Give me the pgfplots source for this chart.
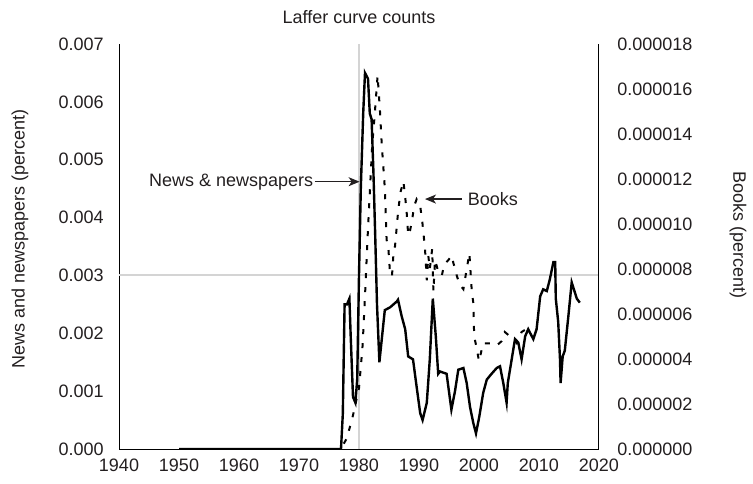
\documentclass[border=0pt]{standalone}
\usepackage{fontspec}
\setmainfont{Liberation Sans}
\usepackage{pgfplots}
\pgfplotsset{compat=1.18}
\usepackage{pgfplotstable}
\usetikzlibrary{arrows.meta}
\definecolor{txt}{HTML}{231F20}
\definecolor{guide}{HTML}{D4D4D4}

\pgfplotstableread{
year value
1950.0 0
1977.0 0
1977.3 0.0006
1977.6 0.0025
1978.0 0.0025
1978.4 0.0026
1978.6 0.0020
1979.0 0.0009
1979.4 0.0008
1979.7 0.0012
1980.0 0.0030
1980.3 0.0045
1980.7 0.0058
1981.0 0.0065
1981.5 0.0064
1981.8 0.0058
1982.1 0.0057
1982.4 0.0048
1982.7 0.0037
1983.0 0.0025
1983.4 0.0015
1983.8 0.0019
1984.3 0.0024
1985.2 0.00245
1986.3 0.00255
1986.5 0.00258
1987.1 0.0023
1987.7 0.00207
1988.2 0.0016
1989.0 0.00155
1989.6 0.00108
1990.2 0.00062
1990.6 0.0005
1991.3 0.0008
1991.8 0.00155
1992.3 0.0026
1992.8 0.00195
1993.2 0.0013
1993.5 0.00134
1994.6 0.0013
1995.4 0.00068
1996.0 0.0010
1996.55 0.00137
1997.4 0.0014
1997.95 0.00114
1998.5 0.00073
1999.05 0.00045
1999.5 0.00027
2000.05 0.00056
2000.7 0.00097
2001.3 0.0012
2002.1 0.0013
2002.95 0.0014
2003.5 0.00143
2004.05 0.00114
2004.6 0.0008
2004.8 0.00114
2005.45 0.00155
2006.0 0.0019
2006.55 0.00184
2007.1 0.00155
2007.7 0.00195
2008.2 0.00207
2009.05 0.0019
2009.6 0.00207
2010.2 0.00264
2010.7 0.00276
2011.3 0.00273
2011.8 0.00293
2012.4 0.00323
2012.7 0.00323
2012.8 0.0026
2013.2 0.0022
2013.5 0.00155
2013.6 0.00114
2013.95 0.0016
2014.3 0.0017
2014.9 0.0023
2015.45 0.00288
2016.0 0.0027
2016.3 0.0026
2016.8 0.00253
}\news

\pgfplotstableread{
year value
1950.0 0
1977.0 0
1978.0 0.0000005
1979.0 0.0000015
1980.0 0.0000027
1980.6 0.0000046
1981.0 0.0000068
1981.5 0.0000098
1982.2 0.0000135
1982.6 0.0000148
1983.1 0.0000166
1983.5 0.0000150
1983.8 0.0000135
1984.3 0.0000116
1984.6 0.0000093
1984.9 0.0000089
1985.2 0.0000077
1985.5 0.0000077
1985.8 0.0000089
1986.0 0.0000090
1986.5 0.0000105
1986.9 0.0000114
1987.4 0.0000119
1987.7 0.0000112
1987.95 0.0000105
1988.2 0.0000095
1988.5 0.0000097
1988.8 0.0000101
1989.2 0.0000108
1989.6 0.0000111
1990.2 0.0000108
1990.55 0.0000101
1991.0 0.0000089
1991.3 0.0000075
1991.55 0.0000086
1991.8 0.0000080
1992.2 0.0000089
1992.4 0.0000070
1992.67 0.0000084
1993.2 0.0000079
1993.8 0.0000077
1994.2 0.0000082
1994.9 0.0000084
1995.45 0.0000086
1995.7 0.0000083
1996.3 0.0000077
1996.8 0.0000073
1997.4 0.0000071
1997.95 0.0000080
1998.4 0.0000087
1998.8 0.0000070
1999.05 0.0000065
1999.2 0.0000050
1999.6 0.0000045
2000.0 0.0000039
2000.7 0.0000047
2001.3 0.0000047
2002.1 0.0000047
2002.95 0.0000046
2003.8 0.0000048
2004.3 0.0000052
2005.2 0.0000050
2005.7 0.0000049
2006.3 0.0000047
2007.1 0.0000052
2007.7 0.0000053
2008.5 0.0000053
}\books

\begin{document}
\fontsize{9}{11}\selectfont
\begin{tikzpicture}[every node/.style={text=txt}]
\useasboundingbox (0,0) rectangle (376.5pt,241.5pt);
\pgfplotsset{
  base/.style={
    at={(59.5pt,17pt)}, anchor=south west,
    scale only axis, width=240pt, height=202.5pt,
    xmin=1940, xmax=2020,
    major tick length=0pt,
    /pgf/number format/assume math mode=true,
    scaled y ticks=false,
    tick label style={font=\fontsize{9}{11}\selectfont, text=txt},
  },
  nolinearrows/.style={
    axis line style={-, black, line width=0.5pt},
    every outer x axis line/.append style={-},
    every outer y axis line/.append style={-},
    every inner x axis line/.append style={-},
    every inner y axis line/.append style={-},
  }
}
\begin{axis}[base,
  axis x line=bottom, axis y line=left, nolinearrows,
  ymin=0, ymax=0.007,
  xtick={1940,1950,...,2020},
  xticklabel style={yshift=-2pt},
  xticklabel={\pgfmathprintnumber[int detect,1000 sep={}]{\tick}},
  ytick={0,0.001,0.002,0.003,0.004,0.005,0.006,0.007},
  yticklabels={0.000,0.001,0.002,0.003,0.004,0.005,0.006,0.007},
  yticklabel style={xshift=-4.5pt},
]
\addplot[guide, line width=1pt] coordinates {(1980,0) (1980,0.007)};
\addplot[guide, line width=1pt] coordinates {(1940,0.003) (2020,0.003)};
\addplot[black, line width=1.2pt, line join=miter] table[x=year,y=value]{\news};
\draw[txt, line width=0.6pt, -{Stealth[length=5.5pt,width=4.5pt,inset=1.5pt]}] (axis cs:1972.65,0.00462) -- (axis cs:1980.1,0.00462);
\node[anchor=east, inner sep=0.5pt] at (axis cs:1972.6,0.00462) {News \& newspapers};
\draw[txt, line width=0.6pt, -{Stealth[length=5.5pt,width=4.5pt,inset=1.5pt]}] (axis cs:1997.1,0.00432) -- (axis cs:1991.0,0.00432);
\node[anchor=west, inner sep=0.5pt] at (axis cs:1997.9,0.00432) {Books};
\end{axis}
\begin{axis}[base,
  axis x line=none, axis y line=right, nolinearrows,
  ymin=0, ymax=0.000018,
  xtick=\empty,
  ytick={0,0.000002,0.000004,0.000006,0.000008,0.00001,0.000012,0.000014,0.000016,0.000018},
  yticklabels={0.000000,0.000002,0.000004,0.000006,0.000008,0.000010,0.000012,0.000014,0.000016,0.000018},
  yticklabel style={xshift=6pt},
]
\addplot[black, line width=1pt, dash pattern=on 2.5pt off 4.5pt] table[x=year,y=value]{\books};
\end{axis}
\node[rotate=90] at (10pt,122pt) {News and newspapers (percent)};
\node[rotate=-90] at (369pt,124pt) {Books (percent)};
\node at (179.5pt,233pt) {Laffer curve counts};
\end{tikzpicture}
\end{document}
